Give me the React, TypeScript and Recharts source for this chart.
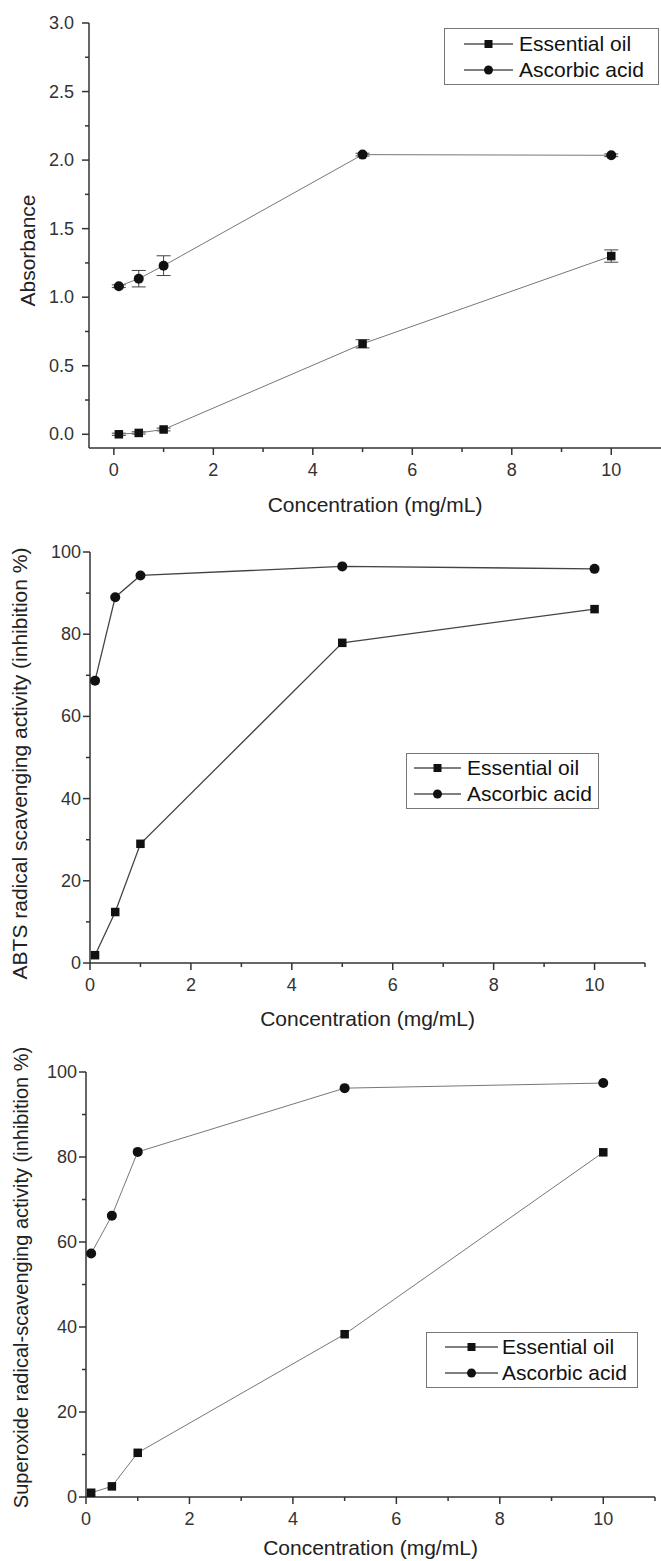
import React from "react"
import { LineChart, Line, XAxis, YAxis, ErrorBar, Legend, Label } from "recharts"

const FONT = '"Liberation Sans", Arial, Helvetica, sans-serif'

// shared x values (mg/mL)
const concentrations = [0.1, 0.5, 1, 5, 10]
const seriesNames = ["Essential oil", "Ascorbic acid"]

// panel 1: absorbance
const absOil = [0.0, 0.01, 0.035, 0.66, 1.3]
const absOilErr = [0.008, 0.008, 0.01, 0.03, 0.045]
const absAcid = [1.08, 1.135, 1.23, 2.04, 2.035]
const absAcidErr = [0.01, 0.06, 0.072, 0.01, 0.01]

// panel 2: ABTS
const abtsOil = [1.9, 12.4, 29.0, 77.9, 86.1]
const abtsAcid = [68.7, 89.0, 94.3, 96.5, 95.9]

// panel 3: superoxide
const supOil = [1.0, 2.5, 10.4, 38.3, 81.1]
const supAcid = [57.3, 66.2, 81.2, 96.2, 97.4]

// tick values
const xTicksShort = [0, 1, 2, 3, 4, 5, 6, 7, 8, 9, 10]
const xTicksLong = [0, 1, 2, 3, 4, 5, 6, 7, 8, 9, 10, 11]
const absTicks = [0, 0.25, 0.5, 0.75, 1, 1.25, 1.5, 1.75, 2, 2.25, 2.5, 2.75, 3]
const pctTicks = [0, 10, 20, 30, 40, 50, 60, 70, 80, 90, 100]

const build = (oil: number[], acid: number[], oilErr?: number[], acidErr?: number[]) =>
  concentrations.map((c, i) => ({
    x: c,
    oil: oil[i],
    acid: acid[i],
    oilErr: oilErr ? oilErr[i] : 0,
    acidErr: acidErr ? acidErr[i] : 0,
  }))

const isMajor = (v: number, step: number) => Math.abs(v / step - Math.round(v / step)) < 1e-6

function BottomTick(props: any) {
  const { x, y, payload, step } = props
  const major = isMajor(payload.value, step)
  return (
    <g>
      <line x1={x} y1={y} x2={x} y2={y + (major ? 7 : 4)} stroke="#333" strokeWidth={1.5} />
      {major && (
        <text x={x} y={y + 22} textAnchor="middle" dominantBaseline="central" fontSize={18} fill="#333" fontFamily={FONT}>
          {payload.value}
        </text>
      )}
    </g>
  )
}

function LeftTick(props: any) {
  const { x, y, payload, step, gap, digits } = props
  const major = isMajor(payload.value, step)
  return (
    <g>
      <line x1={x} y1={y} x2={x - (major ? 7 : 4)} y2={y} stroke="#333" strokeWidth={1.5} />
      {major && (
        <text x={x - gap} y={y} textAnchor="end" dominantBaseline="central" fontSize={18} fill="#333" fontFamily={FONT}>
          {payload.value.toFixed(digits)}
        </text>
      )}
    </g>
  )
}

function Square({ cx, cy, s }: { cx: number; cy: number; s: number }) {
  return <rect x={cx - s / 2} y={cy - s / 2} width={s} height={s} fill="#111" />
}

function Dot({ cx, cy, r }: { cx: number; cy: number; r: number }) {
  return <circle cx={cx} cy={cy} r={r} fill="#111" />
}

type LegendBox = { left: number; top: number; width: number; height: number; pad: number; symW: number; gap: number }

function LegendContent({ box }: { box: LegendBox }) {
  return (
    <div
      style={{
        width: box.width,
        height: box.height,
        boxSizing: "border-box",
        border: "1.5px solid #777",
        background: "#fff",
        display: "flex",
        flexDirection: "column",
        justifyContent: "center",
        fontFamily: FONT,
        fontSize: 21,
        color: "#111",
      }}
    >
      {seriesNames.map((name, i) => (
        <div key={name} style={{ display: "flex", alignItems: "center", height: 26, paddingLeft: box.pad }}>
          <svg width={box.symW} height={14} style={{ marginRight: box.gap }}>
            <line x1={0} y1={7} x2={box.symW} y2={7} stroke="#555" strokeWidth={1.3} />
            {i === 0 ? <Square cx={box.symW / 2} cy={7} s={8} /> : <Dot cx={box.symW / 2} cy={7} r={4.5} />}
          </svg>
          <span style={{ lineHeight: "26px", whiteSpace: "nowrap" }}>{name}</span>
        </div>
      ))}
    </div>
  )
}

type PanelProps = {
  top: number
  height: number
  data: any[]
  margin: { top: number; right: number; bottom: number; left: number }
  yWidth: number
  xHeight: number
  xDomain: [number, number]
  yDomain: [number, number]
  xTicks: number[]
  yTicks: number[]
  yStep: number
  yDigits: number
  yGap: number
  xLabelGap: number
  yLabel: string
  yLabelX: number
  yLabelDy: number
  yLabelSize: number
  legend: LegendBox
  lineColor: string
  lineWidth: number
  errors?: boolean
}

function Panel(p: PanelProps) {
  return (
    <div style={{ position: "absolute", left: 0, top: p.top }}>
      <LineChart width={661} height={p.height} data={p.data} margin={p.margin}>
        <XAxis
          dataKey="x"
          type="number"
          domain={p.xDomain}
          ticks={p.xTicks}
          interval={0}
          allowDataOverflow
          height={p.xHeight}
          tickSize={0}
          tickMargin={0}
          tickLine={false}
          axisLine={{ stroke: "#333", strokeWidth: 1.5 }}
          tick={(t: any) => <BottomTick {...t} step={2} />}
        >
          <Label
            content={(lp: any) => {
              const vb = lp.viewBox
              return (
                <text
                  x={vb.x + vb.width / 2}
                  y={vb.y + p.xLabelGap}
                  textAnchor="middle"
                  dominantBaseline="central"
                  fontSize={21}
                  fill="#222"
                  fontFamily={FONT}
                >
                  Concentration (mg/mL)
                </text>
              )
            }}
          />
        </XAxis>
        <YAxis
          type="number"
          domain={p.yDomain}
          ticks={p.yTicks}
          interval={0}
          allowDataOverflow
          width={p.yWidth}
          tickSize={0}
          tickMargin={0}
          tickLine={false}
          axisLine={{ stroke: "#333", strokeWidth: 1.5 }}
          tick={(t: any) => <LeftTick {...t} step={p.yStep} gap={p.yGap} digits={p.yDigits} />}
        >
          <Label
            content={(lp: any) => {
              const vb = lp.viewBox
              const cy = vb.y + vb.height / 2 + p.yLabelDy
              return (
                <text
                  transform={`translate(${p.yLabelX},${cy}) rotate(-90)`}
                  textAnchor="middle"
                  dominantBaseline="central"
                  fontSize={p.yLabelSize}
                  fill="#222"
                  fontFamily={FONT}
                >
                  {p.yLabel}
                </text>
              )
            }}
          />
        </YAxis>
        <Legend
          layout="vertical"
          align="center"
          verticalAlign="middle"
          wrapperStyle={{ left: p.legend.left, top: p.legend.top, width: p.legend.width, height: p.legend.height }}
          content={() => <LegendContent box={p.legend} />}
        />
        <Line
          dataKey="oil"
          name={seriesNames[0]}
          stroke={p.lineColor}
          strokeWidth={p.lineWidth}
          isAnimationActive={false}
          dot={(d: any) => <Square key={`o${d.index}`} cx={d.cx} cy={d.cy} s={8.5} />}
          activeDot={false}
        >
          {p.errors && <ErrorBar dataKey="oilErr" direction="y" width={7} stroke="#444" strokeWidth={1} />}
        </Line>
        <Line
          dataKey="acid"
          name={seriesNames[1]}
          stroke={p.lineColor}
          strokeWidth={p.lineWidth}
          isAnimationActive={false}
          dot={(d: any) => <Dot key={`a${d.index}`} cx={d.cx} cy={d.cy} r={5} />}
          activeDot={false}
        >
          {p.errors && <ErrorBar dataKey="acidErr" direction="y" width={7} stroke="#444" strokeWidth={1} />}
        </Line>
      </LineChart>
    </div>
  )
}

export default function App() {
  return (
    <div style={{ position: "absolute", left: 0, top: 0, width: 661, height: 1561, background: "#fff", overflow: "hidden" }}>
      <Panel
        top={0}
        height={520}
        data={build(absOil, absAcid, absOilErr, absAcidErr)}
        margin={{ top: 23, right: 0, bottom: 0, left: 0 }}
        yWidth={89}
        xHeight={72}
        xDomain={[-0.5, 11]}
        yDomain={[-0.1, 3]}
        xTicks={xTicksShort}
        yTicks={absTicks}
        yStep={0.5}
        yDigits={1}
        yGap={15}
        xLabelGap={56}
        yLabel="Absorbance"
        yLabelX={27}
        yLabelDy={15}
        yLabelSize={21}
        legend={{ left: 444, top: 28, width: 215, height: 57, pad: 19, symW: 49, gap: 6 }}
        lineColor="#777"
        lineWidth={1}
        errors
      />
      <Panel
        top={520}
        height={520}
        data={build(abtsOil, abtsAcid)}
        margin={{ top: 32, right: 16, bottom: 0, left: 0 }}
        yWidth={90}
        xHeight={77}
        xDomain={[0, 11]}
        yDomain={[0, 100]}
        xTicks={xTicksLong}
        yTicks={pctTicks}
        yStep={20}
        yDigits={0}
        yGap={9}
        xLabelGap={55}
        yLabel="ABTS radical scavenging activity (inhibition %)"
        yLabelX={19}
        yLabelDy={6}
        yLabelSize={21}
        legend={{ left: 406, top: 233, width: 193, height: 56, pad: 7, symW: 47, gap: 6 }}
        lineColor="#444"
        lineWidth={1.3}
      />
      <Panel
        top={1040}
        height={521}
        data={build(supOil, supAcid)}
        margin={{ top: 32, right: 6, bottom: 0, left: 0 }}
        yWidth={86}
        xHeight={64}
        xDomain={[0, 11]}
        yDomain={[0, 100]}
        xTicks={xTicksLong}
        yTicks={pctTicks}
        yStep={20}
        yDigits={0}
        yGap={9}
        xLabelGap={50}
        yLabel="Superoxide radical-scavenging activity (inhibition %)"
        yLabelX={21}
        yLabelDy={-7}
        yLabelSize={20}
        legend={{ left: 426, top: 292, width: 212, height: 56, pad: 18, symW: 53, gap: 4 }}
        lineColor="#777"
        lineWidth={1}
      />
    </div>
  )
}
